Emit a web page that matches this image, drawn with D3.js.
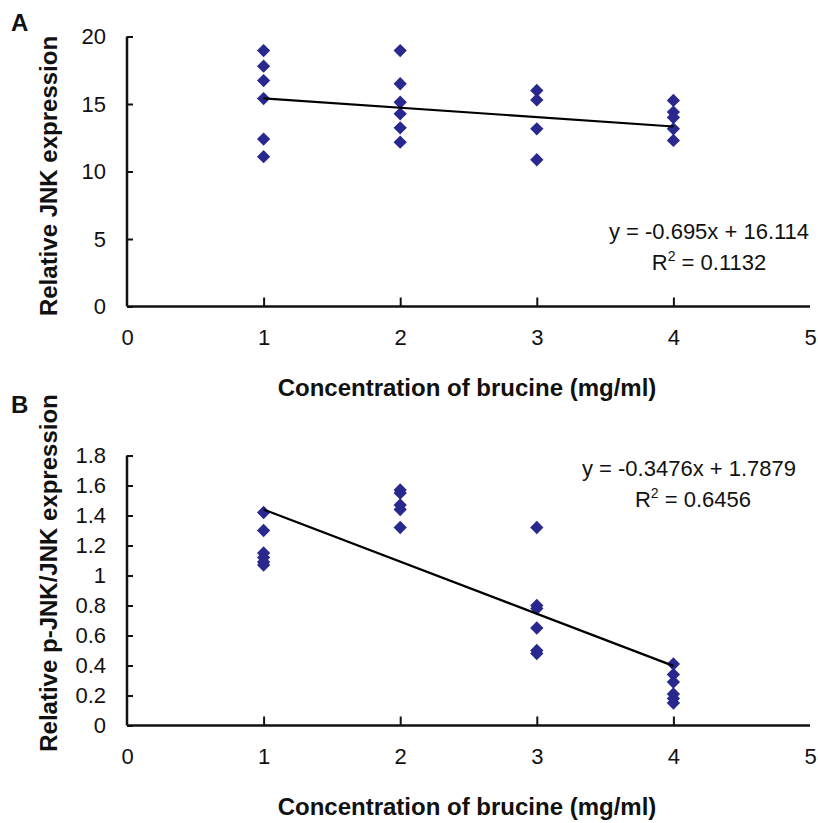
<!DOCTYPE html>
<html><head><meta charset="utf-8">
<script src="https://cdn.jsdelivr.net/npm/d3@7"></script>
<style>body{margin:0;background:#fff}svg{font-family:"Liberation Sans",Arial,sans-serif}</style>
</head><body><svg id="c" width="818" height="823"></svg>
<script>
const xTicks = [0,1,2,3,4,5];
const aXs = [1,1,1,1,1,1, 2,2,2,2,2,2, 3,3,3,3, 4,4,4,4,4];
const aYs = [18.96,17.8,16.74,15.4,12.4,11.1, 18.96,16.5,15.13,14.27,13.24,12.17, 16.0,15.3,13.16,10.87, 15.26,14.4,14.0,13.16,12.3];
const aTicks = [0,5,10,15,20];
const aFit = {slope:-0.695, intercept:16.114, eq:"y = -0.695x + 16.114", r2:"0.1132"};
const bXs = [1,1,1,1,1,1, 2,2,2,2,2, 3,3,3,3,3,3, 4,4,4,4,4,4];
const bYs = [1.42,1.30,1.15,1.12,1.09,1.07, 1.57,1.55,1.47,1.44,1.32, 1.32,0.80,0.78,0.65,0.50,0.48, 0.41,0.34,0.29,0.21,0.18,0.15];
const bTicks = [0,0.2,0.4,0.6,0.8,1,1.2,1.4,1.6,1.8];
const bFit = {slope:-0.3476, intercept:1.7879, eq:"y = -0.3476x + 1.7879", r2:"0.6456"};

const svg = d3.select("#c");
const diamond = d3.symbol().type(d3.symbolSquare).size(88);
const FONT = "Liberation Sans, Arial, sans-serif";

function panel(o){
  const x = d3.scaleLinear().domain([0,5]).range([127,810]);
  const y = d3.scaleLinear().domain([0,o.ymax]).range([o.bottom,o.top]);
  const g = svg.append("g");
  // y axis
  const ya = g.append("g").attr("transform",`translate(127,0)`)
    .call(d3.axisLeft(y).tickValues(o.ticks).tickSize(0).tickPadding(21).tickFormat(d=>String(d)));
  ya.select(".domain").attr("stroke","#111").attr("stroke-width",2.5).attr("d",`M0,${o.bottom}V${o.top}`);
  ya.selectAll(".tick line").attr("stroke","#111").attr("stroke-width",2).attr("x1",0).attr("x2",6);
  ya.selectAll("text").attr("font-size",22).attr("fill","#111").attr("font-family",FONT);
  // x axis
  const xa = g.append("g").attr("transform",`translate(0,${o.bottom})`)
    .call(d3.axisBottom(x).tickValues(xTicks).tickSize(0).tickPadding(23).tickFormat(d3.format("d")));
  xa.select(".domain").attr("stroke","#111").attr("stroke-width",2.5).attr("d",`M127,0H810`);
  xa.selectAll(".tick line").attr("stroke","#111").attr("stroke-width",2).attr("y1",-9).attr("y2",0);
  xa.selectAll(".tick").filter(d=>d===0||d===5).select("line").remove();
  xa.selectAll("text").attr("font-size",22).attr("fill","#111").attr("font-family",FONT);
  // points
  g.selectAll("path.pt").data(o.xs.map((d,i)=>[d,o.ys[i]])).join("path").attr("class","pt")
    .attr("d",diamond).attr("fill","#28288e")
    .attr("transform",d=>`translate(${x(d[0])},${y(d[1])}) rotate(45)`);
  // trend
  g.append("line").attr("x1",x(1)).attr("x2",x(4))
    .attr("y1",y(o.fit.slope*1+o.fit.intercept)).attr("y2",y(o.fit.slope*4+o.fit.intercept))
    .attr("stroke","#000").attr("stroke-width",2.2);
  // equation
  g.append("text").attr("x",o.eqX).attr("y",o.eqY).attr("text-anchor","middle").attr("font-size",22).attr("fill","#111").text(o.fit.eq);
  const r = g.append("text").attr("x",o.r2X).attr("y",o.eqY+31).attr("text-anchor","middle").attr("font-size",22).attr("fill","#111");
  r.append("tspan").text("R");
  r.append("tspan").attr("dy",-9).attr("font-size",14).text("2");
  r.append("tspan").attr("dy",9).text(" = "+o.fit.r2);
  // titles
  g.append("text").attr("x",467).attr("y",o.bottom+89).attr("text-anchor","middle").attr("font-size",24).attr("font-weight","bold").attr("fill","#111").text("Concentration of brucine (mg/ml)");
  g.append("text").attr("transform",`translate(57,${o.ytitleY}) rotate(-90)`).attr("text-anchor","middle").attr("font-size",24).attr("font-weight","bold").attr("fill","#111").text(o.ytitle);
  g.append("text").attr("x",11).attr("y",o.letterY).attr("font-size",24).attr("font-weight","bold").attr("fill","#111").text(o.letter);
}

panel({xs:aXs, ys:aYs, ticks:aTicks, ymax:20, top:36.5, bottom:306.5, fit:aFit, eqX:709, eqY:239, r2X:709,
  ytitle:"Relative JNK expression", ytitleY:176, letter:"A", letterY:31});
panel({xs:bXs, ys:bYs, ticks:bTicks, ymax:1.8, top:455.5, bottom:725.5, fit:bFit, eqX:689, eqY:476, r2X:693,
  ytitle:"Relative p-JNK/JNK expression", ytitleY:573, letter:"B", letterY:413});
</script></body></html>
